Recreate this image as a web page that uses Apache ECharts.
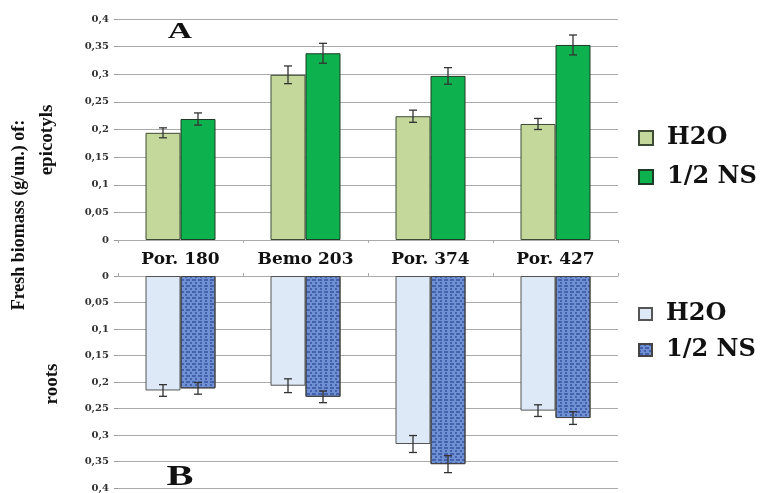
<!DOCTYPE html>
<html><head><meta charset="utf-8">
<script src="https://cdn.jsdelivr.net/npm/echarts@6/dist/echarts.min.js"></script>
<style>html,body{margin:0;padding:0;background:#fff}#c{width:779px;height:493px}</style>
</head><body><div id="c"></div>
<script>
const categories = ['Por. 180', 'Bemo 203', 'Por. 374', 'Por. 427'];
const epiH2O = [0.194, 0.299, 0.224, 0.210];
const epiH2OErr = [0.009, 0.016, 0.011, 0.010];
const epiNS = [0.219, 0.338, 0.297, 0.353];
const epiNSErr = [0.011, 0.018, 0.015, 0.018];
const rootH2O = [0.216, 0.207, 0.317, 0.254];
const rootH2OErr = [0.011, 0.013, 0.016, 0.011];
const rootNS = [0.212, 0.228, 0.355, 0.268];
const rootNSErr = [0.011, 0.011, 0.016, 0.012];

const serif = 'Liberation Serif';
const wide = 'DejaVu Serif';
const BW = 35;

function errSeries(gridIdx, vals, errs, offset) {
  return {
    type: 'custom', xAxisIndex: gridIdx, yAxisIndex: gridIdx, z: 5, silent: true,
    data: vals.map((v, i) => [i, v, errs[i]]),
    encode: { x: 0, y: 1 },
    renderItem: function (params, api) {
      const i = api.value(0), v = api.value(1), e = api.value(2);
      const x = api.coord([i, v])[0] + offset;
      const y1 = api.coord([i, v - e])[1];
      const y2 = api.coord([i, v + e])[1];
      const st = { stroke: '#333', lineWidth: 1.3 };
      return { type: 'group', children: [
        { type: 'line', shape: { x1: x, y1: y1, x2: x, y2: y2 }, style: st },
        { type: 'line', shape: { x1: x - 4, y1: y1, x2: x + 4, y2: y1 }, style: st },
        { type: 'line', shape: { x1: x - 4, y1: y2, x2: x + 4, y2: y2 }, style: st }
      ]};
    }
  };
}

const fmt = v => String(Math.round(v * 100) / 100).replace('.', ',');

const yAxisCommon = {
  type: 'value', min: 0, max: 0.4, interval: 0.05,
  axisLine: { show: false },
  axisTick: { show: true, length: 4, lineStyle: { color: '#999' } },
  splitLine: { lineStyle: { color: '#aaa', width: 1 } },
  axisLabel: { formatter: fmt, fontFamily: wide, fontWeight: 'bold', fontSize: 10, color: '#333', margin: 9 }
};

const decal = {
  symbol: 'rect', symbolSize: 1, color: 'rgba(35,60,140,0.55)',
  dashArrayX: [[4, 2], [2, 3]], dashArrayY: [2, 1], rotation: 0
};

const legendText = { fontFamily: wide, fontWeight: 'bold', fontSize: 24, color: '#111', padding: [0, 0, 0, 9] };

const option = {
  animation: false,
  grid: [
    { left: 118, top: 19, width: 500, height: 221 },
    { left: 118, top: 276, width: 500, height: 212 }
  ],
  xAxis: [
    { type: 'category', gridIndex: 0, data: categories,
      axisLine: { lineStyle: { color: '#aaa' } },
      axisTick: { show: true, length: 3, lineStyle: { color: '#aaa' } },
      axisLabel: { show: false } },
    { type: 'category', gridIndex: 1, data: categories, position: 'top',
      axisLine: { lineStyle: { color: '#aaa' } },
      axisTick: { show: true, length: 3, lineStyle: { color: '#aaa' } },
      axisLabel: { fontFamily: wide, fontWeight: 'bold', fontSize: 17, color: '#111', margin: 8 } }
  ],
  yAxis: [
    Object.assign({}, yAxisCommon, { gridIndex: 0 }),
    Object.assign({}, yAxisCommon, { gridIndex: 1, inverse: true })
  ],
  legend: [
    { orient: 'vertical', left: 633, top: 121, itemGap: 15, itemWidth: 14, itemHeight: 14,
      data: ['H2O', '1/2 NS'], icon: 'rect',
      formatter: n => n.trim(), textStyle: legendText },
    { orient: 'vertical', left: 633, top: 297, itemGap: 12, itemWidth: 13, itemHeight: 12,
      data: ['H2O ', '1/2 NS '], icon: 'rect',
      formatter: n => n.trim(), textStyle: legendText }
  ],
  series: [
    { name: 'H2O', type: 'bar', xAxisIndex: 0, yAxisIndex: 0, data: epiH2O, barWidth: BW, barGap: '0%',
      itemStyle: { color: '#c4d89c', borderColor: '#3d4a35', borderWidth: 1 } },
    { name: '1/2 NS', type: 'bar', xAxisIndex: 0, yAxisIndex: 0, data: epiNS, barWidth: BW, barGap: '0%',
      itemStyle: { color: '#0db14e', borderColor: '#1f3a25', borderWidth: 1 } },
    { name: 'H2O ', type: 'bar', xAxisIndex: 1, yAxisIndex: 1, data: rootH2O, barWidth: BW, barGap: '0%',
      itemStyle: { color: '#dde9f7', borderColor: '#555', borderWidth: 1 } },
    { name: '1/2 NS ', type: 'bar', xAxisIndex: 1, yAxisIndex: 1, data: rootNS, barWidth: BW, barGap: '0%',
      itemStyle: { color: '#6f90d2', borderColor: '#444', borderWidth: 1, decal: decal } },
    errSeries(0, epiH2O, epiH2OErr, -BW / 2),
    errSeries(0, epiNS, epiNSErr, BW / 2),
    errSeries(1, rootH2O, rootH2OErr, -BW / 2),
    errSeries(1, rootNS, rootNSErr, BW / 2)
  ],
  graphic: [
    { type: 'text', x: 180, y: 32, scaleX: 1.4,
      style: { text: 'A', fontFamily: serif, fontWeight: 'bold', fontSize: 24, fill: '#111', align: 'center', verticalAlign: 'middle' } },
    { type: 'text', x: 180, y: 477, scaleX: 1.35,
      style: { text: 'B', fontFamily: serif, fontWeight: 'bold', fontSize: 30, fill: '#111', align: 'center', verticalAlign: 'middle' } },
    { type: 'text', x: 19, y: 215, rotation: Math.PI / 2,
      style: { text: 'Fresh biomass (g/un.) of:', fontFamily: serif, fontWeight: 'bold', fontSize: 18, fill: '#111', align: 'center', verticalAlign: 'middle' } },
    { type: 'text', x: 47, y: 140, rotation: Math.PI / 2,
      style: { text: 'epicotyls', fontFamily: serif, fontWeight: 'bold', fontSize: 19, fill: '#111', align: 'center', verticalAlign: 'middle' } },
    { type: 'text', x: 52, y: 384, rotation: Math.PI / 2,
      style: { text: 'roots', fontFamily: serif, fontWeight: 'bold', fontSize: 19, fill: '#111', align: 'center', verticalAlign: 'middle' } }
  ]
};
const chart = echarts.init(document.getElementById('c'), null, { renderer: 'canvas' });
chart.setOption(option);
</script></body></html>
